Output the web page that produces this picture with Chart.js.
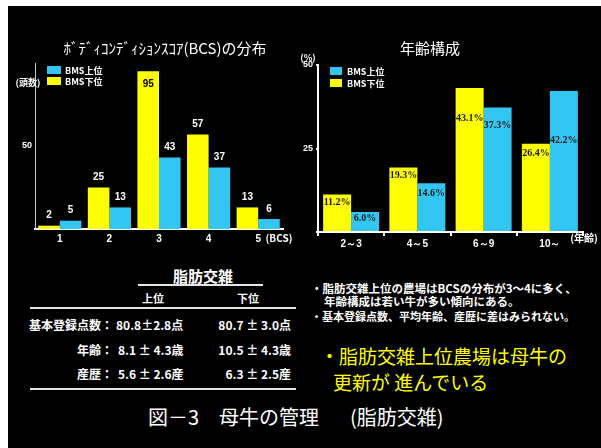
<!DOCTYPE html>
<html>
<head>
<meta charset="utf-8">
<script src="https://cdn.jsdelivr.net/npm/chart.js@4"></script>
<style>
body{margin:0;background:#fff;width:601px;height:448px;overflow:hidden;font-family:"Noto Sans CJK JP",sans-serif;}
#board{position:absolute;left:8px;top:6px;width:593px;height:442px;background:#000;}
canvas{position:absolute;}
.t{position:absolute;color:#fff;white-space:nowrap;line-height:1;}
.c{transform:translate(-50%,-50%);}
.l{transform:translateY(-50%);}
.r{transform:translate(-100%,-50%);}
.b{font-weight:bold;}
.rule{position:absolute;background:#e6e6e6;}
.key{position:absolute;width:14px;height:8px;}
</style>
</head>
<body>
<div id="board"></div>
<canvas id="bcs" width="292" height="244" style="left:8px;top:6px"></canvas>
<canvas id="age" width="305" height="244" style="left:296px;top:6px"></canvas>

<!-- chart titles and axis notes -->
<div class="t c" style="left:165px;top:47px;font-size:15px">ﾎﾞﾃﾞｨｺﾝﾃﾞｨｼｮﾝｽｺｱ(BCS)の分布</div>
<div class="t c" style="left:430px;top:47px;font-size:15px">年齢構成</div>
<div class="t c b" style="left:28px;top:82px;font-size:9px">(頭数)</div>
<div class="t c b" style="left:279px;top:238px;font-size:10px">(BCS)</div>
<div class="t c b" style="left:308px;top:57px;font-size:9px">(%)</div>
<div class="t c b" style="left:584px;top:238px;font-size:10px">(年齢)</div>

<!-- legends -->
<div class="key" id="kb1" style="left:47px;top:66px"></div>
<div class="t l b" style="left:65px;top:70px;font-size:9px">BMS上位</div>
<div class="key" id="ky1" style="left:47px;top:77px"></div>
<div class="t l b" style="left:65px;top:81px;font-size:9px">BMS下位</div>
<div class="key" id="kb2" style="left:330px;top:67px;width:12px"></div>
<div class="t l b" style="left:347px;top:71px;font-size:9px">BMS上位</div>
<div class="key" id="ky2" style="left:330px;top:79px;width:12px"></div>
<div class="t l b" style="left:347px;top:83px;font-size:9px">BMS下位</div>

<!-- summary table -->
<div class="t c b" style="left:203px;top:275px;font-size:15px">脂肪交雑</div>
<div class="rule" style="left:138px;top:284px;width:125px;height:2px"></div>
<div class="t c b" style="left:153px;top:298px;font-size:11px">上位</div>
<div class="t c b" style="left:248px;top:298px;font-size:11px">下位</div>
<div class="rule" style="left:30px;top:307px;width:266px;height:2px"></div>
<div class="t r b" style="left:113px;top:325px;font-size:12px">基本登録点数：</div>
<div class="t l b" style="left:116px;top:325px;font-size:12px">80.8±2.8点</div>
<div class="t r b" style="left:291px;top:325px;font-size:12px">80.7 ± 3.0点</div>
<div class="t r b" style="left:113px;top:350px;font-size:12px">年齢：</div>
<div class="t l b" style="left:118px;top:350px;font-size:12px">8.1 ± 4.3歳</div>
<div class="t r b" style="left:291px;top:350px;font-size:12px">10.5 ± 4.3歳</div>
<div class="t r b" style="left:113px;top:374px;font-size:12px">産歴：</div>
<div class="t l b" style="left:118px;top:374px;font-size:12px">5.6 ± 2.6産</div>
<div class="t r b" style="left:291px;top:374px;font-size:12px">6.3 ± 2.5産</div>
<div class="rule" style="left:30px;top:388px;width:266px;height:2px"></div>

<!-- notes -->
<div class="t l b" style="left:311px;top:289px;font-size:11.5px">・脂肪交雑上位の農場はBCSの分布が3～4に多く、</div>
<div class="t l b" style="left:324px;top:302px;font-size:11.5px">年齢構成は若い牛が多い傾向にある。</div>
<div class="t l b" style="left:311px;top:316px;font-size:11px">・基本登録点数、平均年齢、産歴に差はみられない。</div>
<div class="t l" style="left:320px;top:355px;font-size:19px;color:#ffff00">・脂肪交雑上位農場は母牛の</div>
<div class="t l" style="left:333px;top:381px;font-size:19px;color:#ffff00">更新が 進んでいる</div>

<div class="t l" style="left:148px;top:417px;font-size:20px">図－3　母牛の管理</div>
<div class="t l" style="left:350px;top:417px;font-size:20px">(脂肪交雑)</div>

<script>
const YELLOW = '#ffff00';
const BLUE = '#33c6f2';

// BCS distribution (head counts)
const bcsLabels = ['1', '2', '3', '4', '5'];
const bcsLower = [2, 25, 95, 57, 13];
const bcsUpper = [5, 13, 43, 37, 6];

// age structure (%)
const ageLabels = ['2～3', '4～5', '6～9', '10～'];
const ageLower = [11.2, 19.3, 43.1, 26.4];
const ageUpper = [6.0, 14.6, 37.3, 42.2];

const seriesNames = ['BMS下位', 'BMS上位'];

['kb1', 'kb2'].forEach(id => document.getElementById(id).style.background = BLUE);
['ky1', 'ky2'].forEach(id => document.getElementById(id).style.background = YELLOW);

// draws the number for each bar, above it or inside near the top
const valueLabels = {
  id: 'valueLabels',
  afterDatasetsDraw(chart, args, opts) {
    const { ctx, chartArea } = chart;
    ctx.save();
    ctx.font = opts.font;
    ctx.textAlign = 'center';
    ctx.textBaseline = 'middle';
    chart.data.datasets.forEach((ds, i) => {
      chart.getDatasetMeta(i).data.forEach((bar, j) => {
        const text = opts.format(ds.data[j]);
        let y, color;
        if (opts.drop) {
          y = bar.y + opts.drop[i][j];
          color = opts.inner;
        } else if (bar.y - 14 < chartArea.top) {
          y = bar.y + 13;
          color = opts.inner;
        } else {
          y = bar.y - 10;
          color = opts.outer;
        }
        ctx.fillStyle = color;
        ctx.fillText(text, bar.x, y);
      });
    });
    ctx.restore();
  }
};

const tickFont = { family: 'Liberation Sans', size: 10, weight: 'bold' };

new Chart(document.getElementById('bcs'), {
  type: 'bar',
  data: {
    labels: bcsLabels,
    datasets: [
      { label: seriesNames[0], data: bcsLower, backgroundColor: YELLOW },
      { label: seriesNames[1], data: bcsUpper, backgroundColor: BLUE }
    ]
  },
  options: {
    responsive: false,
    animation: false,
    devicePixelRatio: 1,
    layout: { padding: { left: 0, top: 57, right: 17, bottom: 0 } },
    datasets: { bar: { categoryPercentage: 0.87, barPercentage: 1 } },
    scales: {
      x: {
        grid: { display: false, drawTicks: false },
        border: { display: true, color: '#ffffff', width: 2 },
        ticks: { color: '#fff', font: tickFont, padding: 4 },
        afterFit(s) { s.height = 21; }
      },
      y: {
        min: 0, max: 100,
        grid: { display: false, drawTicks: false },
        border: { display: true, color: '#c8c8c8', width: 1 },
        ticks: {
          stepSize: 50, color: '#fff', padding: 3,
          font: { family: 'Liberation Sans', size: 9, weight: 'bold' },
          callback: v => (v === 50 ? '50' : '')
        },
        afterFit(s) { s.width = 27; }
      }
    },
    plugins: {
      legend: { display: false },
      tooltip: { enabled: false },
      valueLabels: {
        font: 'bold 10px "Liberation Sans"',
        outer: '#ffffff', inner: '#000000',
        format: v => String(v)
      }
    }
  },
  plugins: [valueLabels]
});

new Chart(document.getElementById('age'), {
  type: 'bar',
  data: {
    labels: ageLabels,
    datasets: [
      { label: seriesNames[0], data: ageLower, backgroundColor: YELLOW },
      { label: seriesNames[1], data: ageUpper, backgroundColor: BLUE }
    ]
  },
  options: {
    responsive: false,
    animation: false,
    devicePixelRatio: 1,
    layout: { padding: { left: 0, top: 59, right: 18, bottom: 0 } },
    datasets: { bar: { categoryPercentage: 0.845, barPercentage: 1 } },
    scales: {
      x: {
        grid: { display: true, drawOnChartArea: false, color: '#fff', lineWidth: 2, tickLength: 4 },
        border: { display: true, color: '#ffffff', width: 2 },
        ticks: { color: '#fff', font: tickFont, padding: 2 },
        afterFit(s) { s.height = 18; }
      },
      y: {
        min: 0, max: 50,
        grid: { display: true, drawOnChartArea: false, color: '#fff', lineWidth: 2, tickLength: 2 },
        border: { display: true, color: '#ffffff', width: 2 },
        ticks: {
          stepSize: 25, color: '#fff', padding: 3,
          font: { family: 'Liberation Sans', size: 9, weight: 'bold' },
          callback: v => (v === 0 ? '' : String(v))
        },
        afterFit(s) { s.width = 22; }
      }
    },
    plugins: {
      legend: { display: false },
      tooltip: { enabled: false },
      valueLabels: {
        font: 'bold 10px "Liberation Serif"',
        inner: '#1a1a1a',
        drop: [[8, 8, 30, 10], [6, 10, 18, 49]],
        format: v => v.toFixed(1) + '%'
      }
    }
  },
  plugins: [valueLabels]
});
</script>
</body>
</html>
